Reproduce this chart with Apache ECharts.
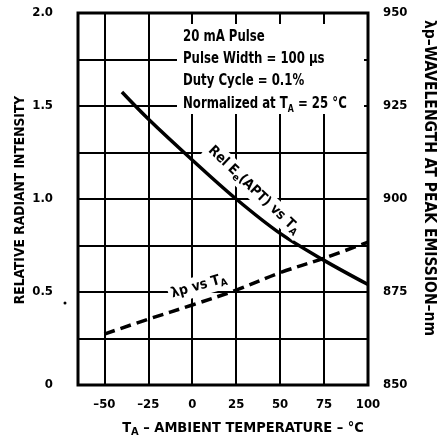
<!DOCTYPE html>
<html>
<head>
<meta charset="utf-8">
<script src="https://cdn.jsdelivr.net/npm/echarts@6/dist/echarts.min.js"></script>
<style>
html,body{margin:0;padding:0;background:#fff;}
#chart{width:443px;height:437px;}
</style>
</head>
<body>
<div id="chart"></div>
<script>
var FONT = "'Liberation Sans Narrow', 'DejaVu Sans Condensed', sans-serif";
// 刻度
var tempTicks = [-50, -25, 0, 25, 50, 75, 100];
// 相对辐射强度 vs 温度
var eeTemps = [-40, -25, 0, 25, 50, 75, 100];
var eeValues = [1.575, 1.43, 1.21, 1.0, 0.815, 0.67, 0.54];
// 峰值波长 vs 温度
var lpTemps = [-50, -25, 0, 25, 50, 75, 100];
var lpValues = [863.7, 867.7, 871.5, 875.5, 880.2, 884.1, 888.4];
var noteLines = ['20 mA Pulse', 'Pulse Width = 100 \u03bcs', 'Duty Cycle = 0.1%'];

function pairs(xs, ys){
    var out = [];
    for (var i = 0; i < xs.length; i++) { out.push([xs[i], ys[i]]); }
    return out;
}

var chart = echarts.init(document.getElementById('chart'));
var option = {
    animation: false,
    backgroundColor: '#fff',
    grid: {left: 78, right: 75, top: 13, bottom: 52, show: true,
        borderColor: '#000', borderWidth: 3, backgroundColor: 'transparent'},
    xAxis: {
        type: 'value', min: -65, max: 100,
        axisLine: {show: false},
        axisTick: {show: false, customValues: tempTicks},
        splitLine: {show: true, lineStyle: {color: '#000', width: 2}},
        axisLabel: {customValues: tempTicks, margin: 13, color: '#000',
            fontFamily: FONT, fontWeight: 'bold', fontSize: 13,
            formatter: function(v){ return v < 0 ? '\u2013' + Math.abs(v) : String(v); }}
    },
    yAxis: [{
        type: 'value', min: 0, max: 2, interval: 0.25,
        axisLine: {show: false}, axisTick: {show: false},
        splitLine: {show: true, lineStyle: {color: '#000', width: 2}},
        axisLabel: {margin: 25, color: '#000', fontFamily: FONT, fontWeight: 'bold', fontSize: 13,
            formatter: function(v){
                if (Math.abs(v * 2 - Math.round(v * 2)) > 1e-6) return '';
                return v === 0 ? '0' : v.toFixed(1);
            }}
    }, {
        type: 'value', min: 850, max: 950, interval: 12.5, position: 'right',
        axisLine: {show: false}, axisTick: {show: false}, splitLine: {show: false},
        axisLabel: {margin: 15, color: '#000', fontFamily: FONT, fontWeight: 'bold', fontSize: 13,
            formatter: function(v){ return v % 25 === 0 ? String(v) : ''; }}
    }],
    series: [{
        type: 'line', yAxisIndex: 0, data: pairs(eeTemps, eeValues),
        smooth: 0.35, symbol: 'none', z: 3,
        lineStyle: {color: '#000', width: 3.5}
    }, {
        type: 'line', yAxisIndex: 1, data: pairs(lpTemps, lpValues),
        smooth: 0.35, symbol: 'none', z: 3,
        lineStyle: {color: '#000', width: 3.5, type: [11, 6]}
    }],
    graphic: [
        {type: 'rect', z: 1, shape: {x: 177, y: 24, width: 187, height: 90}, style: {fill: '#fff'}},
        {type: 'text', z: 4, x: 183, y: 26, scaleX: 0.87, style: {
            text: noteLines.join('\n') + '\nNormalized at T{s|A} = 25 \u00b0C',
            fill: '#000', font: 'bold 15px ' + FONT, lineHeight: 22.2,
            rich: {s: {font: 'bold 10px ' + FONT, verticalAlign: 'bottom', padding: [8, 0, 0, 0]}}
        }},
        {type: 'text', z: 4, x: 254, y: 190, rotation: -0.76, style: {
            text: 'Rel E{s|e}(APT) vs T{s|A}', fill: '#000', font: 'bold 14px ' + FONT,
            align: 'center', verticalAlign: 'middle', backgroundColor: '#fff', padding: [1, 3],
            rich: {s: {font: 'bold 10px ' + FONT, padding: [8, 0, 0, 0]}}
        }},
        {type: 'text', z: 4, x: 199, y: 286, rotation: 0.28, style: {
            text: '\u03bbp vs T{s|A}', fill: '#000', font: 'bold 14px ' + FONT,
            align: 'center', verticalAlign: 'middle', backgroundColor: '#fff', padding: [1, 3],
            rich: {s: {font: 'bold 10px ' + FONT, padding: [8, 0, 0, 0]}}
        }},
        {type: 'text', x: 243, y: 428, style: {
            text: 'T{s|A} \u2013 AMBIENT TEMPERATURE \u2013 \u00b0C', fill: '#000',
            font: 'bold 14.5px ' + FONT, align: 'center', verticalAlign: 'middle',
            rich: {s: {font: 'bold 11px ' + FONT, padding: [8, 0, 0, 0]}}
        }},
        {type: 'text', x: 20, y: 200, rotation: Math.PI / 2, style: {
            text: 'RELATIVE RADIANT INTENSITY', fill: '#000', font: 'bold 13.7px ' + FONT,
            align: 'center', verticalAlign: 'middle'
        }},
        {type: 'text', x: 429, y: 178, rotation: -Math.PI / 2, style: {
            text: '\u03bbp\u2013WAVELENGTH AT PEAK EMISSION\u2013nm', fill: '#000', font: 'bold 15.5px ' + FONT,
            align: 'center', verticalAlign: 'middle'
        }},
        {type: 'circle', shape: {cx: 65, cy: 303, r: 1.5}, style: {fill: '#000'}}
    ]
};
chart.setOption(option);
</script>
</body>
</html>
